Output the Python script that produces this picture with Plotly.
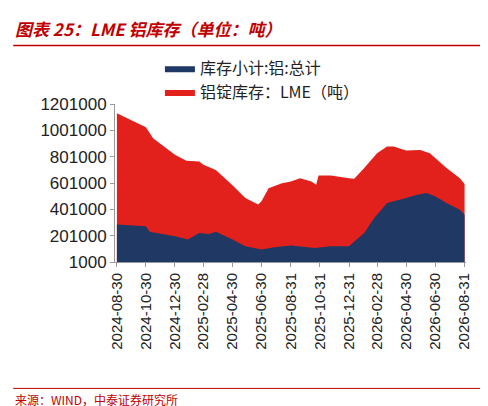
import plotly.graph_objects as go

red_dates = ["2024-08-30","2024-10-30","2024-11-14","2024-12-30","2025-01-23","2025-02-19","2025-02-28","2025-03-26","2025-04-30","2025-05-27","2025-06-23","2025-06-30","2025-07-15","2025-08-12","2025-08-31","2025-09-19","2025-10-13","2025-10-23","2025-10-28","2025-11-23","2025-12-31","2026-01-11","2026-02-01","2026-02-28","2026-03-21","2026-04-04","2026-04-30","2026-05-30","2026-06-19","2026-06-30","2026-07-24","2026-08-21","2026-08-31"]
red_vals = [1130000,1024000,940000,815000,770000,765000,740000,700000,583000,487000,437000,462000,562000,600000,613000,638000,613000,588000,658000,658000,638000,633000,714000,827000,878000,878000,848000,852000,827000,790000,714000,638000,593000]

navy_dates = ["2024-08-30","2024-10-30","2024-11-07","2024-12-30","2025-01-26","2025-02-19","2025-03-12","2025-03-26","2025-04-30","2025-05-27","2025-06-30","2025-07-27","2025-08-31","2025-10-20","2025-11-23","2025-12-31","2026-01-16","2026-02-01","2026-02-22","2026-03-21","2026-04-30","2026-05-23","2026-06-12","2026-06-30","2026-07-24","2026-08-21","2026-08-31"]
navy_vals = [285000,272000,230000,197000,172000,222000,214000,230000,172000,121000,96000,113000,126000,108000,121000,121000,172000,222000,335000,449000,487000,512000,525000,500000,449000,398000,360000]

tick_vals = ["2024-08-30","2024-10-30","2024-12-30","2025-02-28","2025-04-30","2025-06-30","2025-08-31","2025-10-31","2025-12-31","2026-02-28","2026-04-30","2026-06-30","2026-08-31"]
y_ticks = [1000,201000,401000,601000,801000,1001000,1201000]

fig = go.Figure()
fig.add_trace(go.Scatter(x=red_dates, y=red_vals, mode="lines", fill="tozeroy",
    line=dict(color="#E3211C", width=0), fillcolor="#E3211C",
    name="铝锭库存：LME（吨）", legendrank=2))
fig.add_trace(go.Scatter(x=navy_dates, y=navy_vals, mode="lines", fill="tozeroy",
    line=dict(color="#203864", width=0), fillcolor="#203864",
    name="库存小计:铝:总计", legendrank=1))

fig.update_layout(
    width=488, height=406, margin=dict(l=107, r=30, t=96, b=152),
    paper_bgcolor="white", plot_bgcolor="white",
    font=dict(family="Arial, Liberation Sans, Noto Sans CJK SC", size=16, color="#222"),
    legend=dict(orientation="h", x=0.42, xanchor="center", y=1.15, yanchor="middle",
                font=dict(size=16, family="Noto Sans CJK SC"), itemwidth=30,
                tracegroupgap=0, entrywidthmode="pixels"),
    xaxis=dict(type="date", tickvals=tick_vals, ticktext=tick_vals, tickangle=-90,
               range=["2024-08-26","2026-09-03"], showgrid=False, ticks="outside", ticklen=4,
               showline=True, linecolor="#999", tickcolor="#999", tickfont=dict(size=15)),
    yaxis=dict(range=[1000,1201000], tickvals=y_ticks, ticktext=[str(v) for v in y_ticks],
               showgrid=False, ticks="outside", ticklen=4, showline=True, linecolor="#999",
               tickcolor="#999", tickfont=dict(size=17)),
    shapes=[
        dict(type="line", xref="paper", yref="paper", x0=-0.29, x1=1.06, y0=1.37, y1=1.37,
             line=dict(color="#C00000", width=1.5)),
        dict(type="line", xref="paper", yref="paper", x0=-0.29, x1=1.06, y0=-0.80, y1=-0.80,
             line=dict(color="#C00000", width=1)),
    ],
    annotations=[
        dict(text="<b><i>图表 25：LME 铝库存（单位：吨）</i></b>", xref="paper", yref="paper",
             x=-0.29, y=1.48, xanchor="left", yanchor="middle", showarrow=False,
             font=dict(size=17, color="#C00000", family="Noto Sans CJK SC")),
        dict(text="来源：WIND，中泰证券研究所", xref="paper", yref="paper",
             x=-0.29, y=-0.87, xanchor="left", yanchor="middle", showarrow=False,
             font=dict(size=12, color="#C00000", family="Noto Sans CJK SC")),
    ],
)
fig.write_html("out.html")
